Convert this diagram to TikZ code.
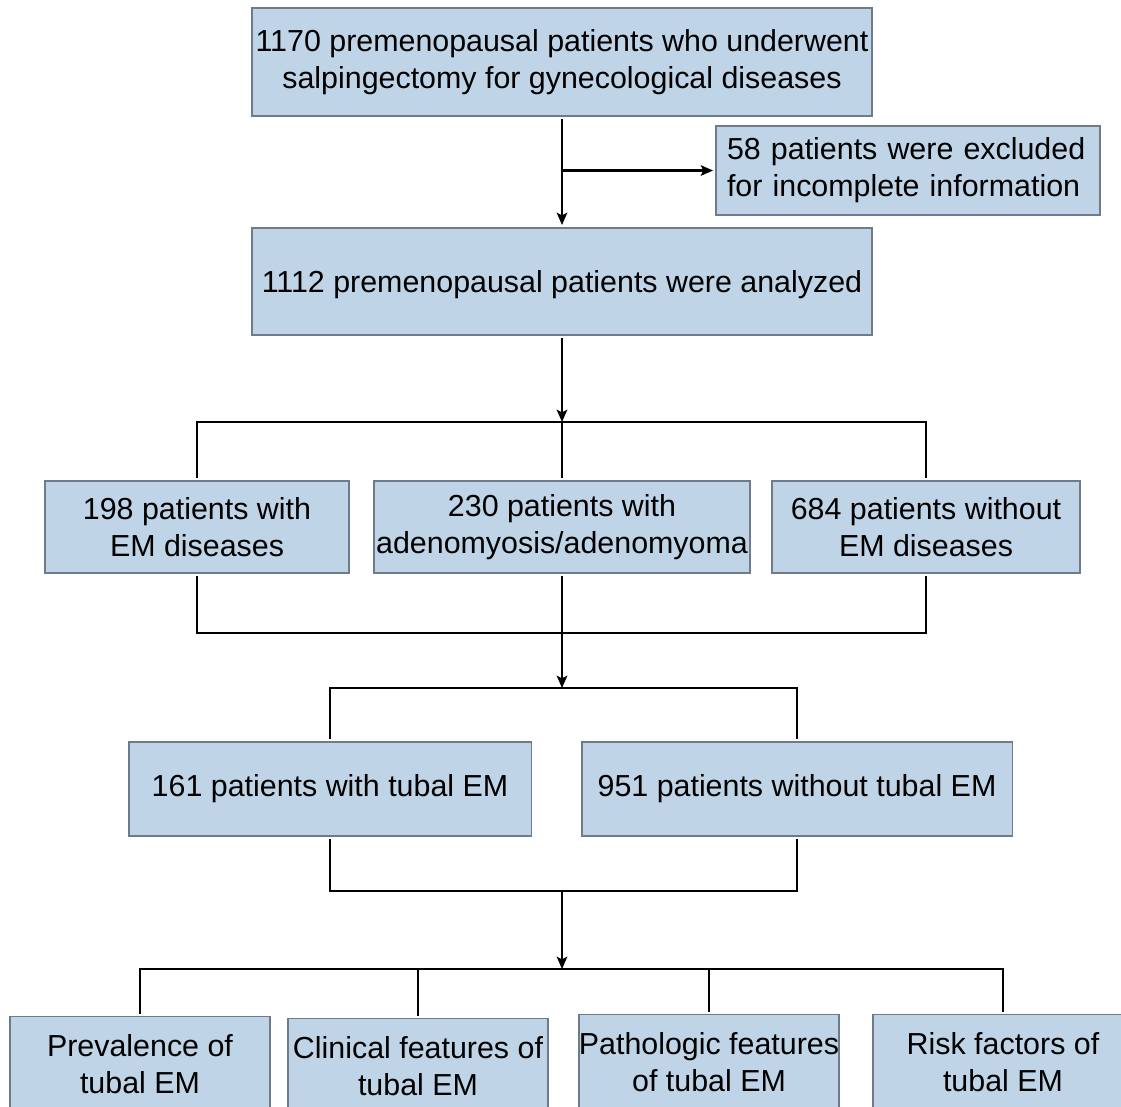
\documentclass[tikz,border=0pt]{standalone}
\usepackage{fontspec}
\setmainfont{Liberation Sans}
\usepackage{tikz}
\usetikzlibrary{arrows.meta}
\definecolor{boxfill}{HTML}{BFD4E6}
\definecolor{boxline}{HTML}{6E7B8B}

\tikzset{
    flowbox/.style={draw=boxline, fill=boxfill, line width=1.1pt, align=center,
        inner sep=0pt, outer sep=0.06cm, font=\fontsize{17.3}{21}\selectfont},
    link/.style={line width=1.2pt},
}

\begin{document}
\begin{tikzpicture}[x=0.02cm, y=-0.02cm, >={Stealth[length=7pt,width=6pt,inset=1.5pt]}]
    \useasboundingbox (0,0) rectangle (1121,1106);
    \clip (0,0) rectangle (1121,1106);
    \fill[white] (0,0) rectangle (1121,1106);

    \node [flowbox, minimum width=12.4cm, minimum height=2.16cm] (total) at (562,62)
        {1170 premenopausal patients who underwent\\salpingectomy for gynecological diseases};
    \node [flowbox, minimum width=7.68cm, minimum height=1.78cm, text width=7.24cm, align=left] (excl) at (908,170.5)
        {58 patients were excluded\\for incomplete information};
    \node [flowbox, minimum width=12.4cm, minimum height=2.14cm, text depth=-0.15cm] (anal) at (562,281.5)
        {1112 premenopausal patients were analyzed};

    \node [flowbox, minimum width=6.08cm, minimum height=1.84cm] (emd) at (197,527)
        {198 patients with\\EM diseases};
    \node [flowbox, minimum width=7.52cm, minimum height=1.84cm] (adeno) at (562,527)
        {230 patients with\\adenomyosis/adenomyoma};
    \node [flowbox, minimum width=6.16cm, minimum height=1.84cm] (noem) at (926,527)
        {684 patients without\\EM diseases};

    \node [flowbox, minimum width=8.06cm, minimum height=1.88cm] (tubal) at (330,789)
        {161 patients with tubal EM};
    \node [flowbox, minimum width=8.62cm, minimum height=1.88cm] (notubal) at (797,789)
        {951 patients without tubal EM};

    \node [flowbox, minimum width=5.2cm, minimum height=1.9cm] (prev) at (140,1064)
        {Prevalence of\\tubal EM};
    \node [flowbox, minimum width=5.2cm, minimum height=1.9cm] (clin) at (418,1066)
        {Clinical features of\\tubal EM};
    \node [flowbox, minimum width=5.2cm, minimum height=1.9cm] (path) at (709,1062)
        {Pathologic features\\of tubal EM};
    \node [flowbox, minimum width=5.2cm, minimum height=1.9cm] (risk) at (1003,1062)
        {Risk factors of\\tubal EM};

    % junctions
    \coordinate (s1) at (562,422);
    \coordinate (j1) at (562,633);
    \coordinate (s2) at (562,688);
    \coordinate (j2) at (562,891);
    \coordinate (s3) at (562,969);

    \draw [link,->] (total) -- (anal);
    \draw [link,->] (total.south |- excl.west) -- (excl.west);

    \draw [link,->] (anal) -- (s1);
    \draw [link] (emd.north) |- (s1) -| (noem.north);
    \draw [link] (adeno.north) -- (s1);

    \draw [link] (emd.south) |- (j1) -| (noem.south);
    \draw [link,->] (adeno.south) -- (s2);
    \draw [link] (tubal.north) |- (s2) -| (notubal.north);

    \draw [link] (tubal.south) |- (j2) -| (notubal.south);
    \draw [link,->] (j2) -- (s3);
    \draw [link] (prev.north) |- (s3) -| (risk.north);
    \draw [link] (clin.north) -- (clin.north |- s3);
    \draw [link] (path.north) -- (path.north |- s3);
\end{tikzpicture}
\end{document}
